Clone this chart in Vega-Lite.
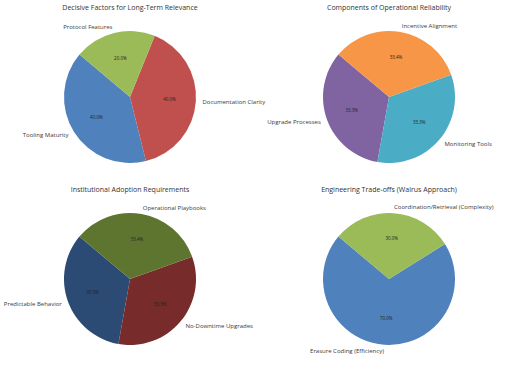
{
  "$schema": "https://vega.github.io/schema/vega-lite/v6.json",
  "padding": {"top": 4, "left": 0, "right": 0, "bottom": 0},
  "spacing": 7,
  "config": {
    "view": {"stroke": null},
    "font": "Open Sans",
    "title": {"fontSize": 7, "fontWeight": "normal", "color": "#333333", "offset": 4, "font": "Open Sans"}
  },
  "resolve": {"scale": {"color": "independent", "theta": "independent"}},
  "vconcat": [
    {
      "spacing": 6,
      "bounds": "flush",
      "resolve": {"scale": {"color": "independent", "theta": "independent"}},
      "hconcat": [
        {
          "title": "Decisive Factors for Long-Term Relevance",
          "width": 260, "height": 164,
          "data": {"values": [
            {"name": "Tooling Maturity", "value": 0.4, "k": 1},
            {"name": "Documentation Clarity", "value": 0.4, "k": 2},
            {"name": "Protocol Features", "value": 0.2, "k": 3}
          ]},
          "encoding": {
            "theta": {"field": "value", "type": "quantitative", "stack": true, "scale": {"range": [-0.87266, -7.15585]}},
            "order": {"field": "k", "type": "quantitative"}
          },
          "layer": [
            {"mark": {"type": "arc", "radius": 66},
             "encoding": {"color": {"field": "name", "type": "nominal", "legend": null,
               "scale": {"domain": ["Tooling Maturity", "Documentation Clarity", "Protocol Features"], "range": ["#4F81BD", "#C0504D", "#9BBB59"]}}}},
            {"mark": {"type": "text", "radius": 72.6, "baseline": "middle", "fontSize": 6, "color": "#3a3a3a",
               "align": {"expr": "cos(PI*140/180 + PI*(datum.value_start + datum.value_end)) < 0 ? 'right' : 'left'"}},
             "encoding": {"detail": {"field": "name"}, "text": {"field": "name"}}},
            {"mark": {"type": "text", "radius": 39.6, "baseline": "middle", "align": "center", "fontSize": 4.5, "color": "#222222"},
             "encoding": {"detail": {"field": "name"}, "text": {"field": "value", "type": "quantitative", "format": ".1%"}}}
          ]
        },
        {
          "title": "Components of Operational Reliability",
          "width": 246, "height": 164,
          "data": {"values": [
            {"name": "Upgrade Processes", "value": 0.333, "k": 1},
            {"name": "Monitoring Tools", "value": 0.333, "k": 2},
            {"name": "Incentive Alignment", "value": 0.334, "k": 3}
          ]},
          "encoding": {
            "theta": {"field": "value", "type": "quantitative", "stack": true, "scale": {"range": [-0.87266, -7.15585]}},
            "order": {"field": "k", "type": "quantitative"}
          },
          "layer": [
            {"mark": {"type": "arc", "radius": 66},
             "encoding": {"color": {"field": "name", "type": "nominal", "legend": null,
               "scale": {"domain": ["Upgrade Processes", "Monitoring Tools", "Incentive Alignment"], "range": ["#8064A2", "#4BACC6", "#F79646"]}}}},
            {"mark": {"type": "text", "radius": 72.6, "baseline": "middle", "fontSize": 6, "color": "#3a3a3a",
               "align": {"expr": "cos(PI*140/180 + PI*(datum.value_start + datum.value_end)) < 0 ? 'right' : 'left'"}},
             "encoding": {"detail": {"field": "name"}, "text": {"field": "name"}}},
            {"mark": {"type": "text", "radius": 39.6, "baseline": "middle", "align": "center", "fontSize": 4.5, "color": "#222222"},
             "encoding": {"detail": {"field": "name"}, "text": {"field": "value", "type": "quantitative", "format": ".1%"}}}
          ]
        }
      ]
    },
    {
      "spacing": 6,
      "bounds": "flush",
      "resolve": {"scale": {"color": "independent", "theta": "independent"}},
      "hconcat": [
        {
          "title": "Institutional Adoption Requirements",
          "width": 260, "height": 164,
          "data": {"values": [
            {"name": "Predictable Behavior", "value": 0.333, "k": 1},
            {"name": "No-Downtime Upgrades", "value": 0.333, "k": 2},
            {"name": "Operational Playbooks", "value": 0.334, "k": 3}
          ]},
          "encoding": {
            "theta": {"field": "value", "type": "quantitative", "stack": true, "scale": {"range": [-0.87266, -7.15585]}},
            "order": {"field": "k", "type": "quantitative"}
          },
          "layer": [
            {"mark": {"type": "arc", "radius": 66},
             "encoding": {"color": {"field": "name", "type": "nominal", "legend": null,
               "scale": {"domain": ["Predictable Behavior", "No-Downtime Upgrades", "Operational Playbooks"], "range": ["#2B4B74", "#772B2A", "#5E7530"]}}}},
            {"mark": {"type": "text", "radius": 72.6, "baseline": "middle", "fontSize": 6, "color": "#3a3a3a",
               "align": {"expr": "cos(PI*140/180 + PI*(datum.value_start + datum.value_end)) < 0 ? 'right' : 'left'"}},
             "encoding": {"detail": {"field": "name"}, "text": {"field": "name"}}},
            {"mark": {"type": "text", "radius": 39.6, "baseline": "middle", "align": "center", "fontSize": 4.5, "color": "#222222"},
             "encoding": {"detail": {"field": "name"}, "text": {"field": "value", "type": "quantitative", "format": ".1%"}}}
          ]
        },
        {
          "title": "Engineering Trade-offs (Walrus Approach)",
          "width": 246, "height": 164,
          "data": {"values": [
            {"name": "Erasure Coding (Efficiency)", "value": 0.7, "k": 1},
            {"name": "Coordination/Retrieval (Complexity)", "value": 0.3, "k": 2}
          ]},
          "encoding": {
            "theta": {"field": "value", "type": "quantitative", "stack": true, "scale": {"range": [-0.87266, -7.15585]}},
            "order": {"field": "k", "type": "quantitative"}
          },
          "layer": [
            {"mark": {"type": "arc", "radius": 66},
             "encoding": {"color": {"field": "name", "type": "nominal", "legend": null,
               "scale": {"domain": ["Erasure Coding (Efficiency)", "Coordination/Retrieval (Complexity)"], "range": ["#4F81BD", "#9BBB59"]}}}},
            {"mark": {"type": "text", "radius": 72.6, "baseline": "middle", "fontSize": 6, "color": "#3a3a3a",
               "align": {"expr": "cos(PI*140/180 + PI*(datum.value_start + datum.value_end)) < 0 ? 'right' : 'left'"}},
             "encoding": {"detail": {"field": "name"}, "text": {"field": "name"}}},
            {"mark": {"type": "text", "radius": 39.6, "baseline": "middle", "align": "center", "fontSize": 4.5, "color": "#222222"},
             "encoding": {"detail": {"field": "name"}, "text": {"field": "value", "type": "quantitative", "format": ".1%"}}}
          ]
        }
      ]
    }
  ]
}
